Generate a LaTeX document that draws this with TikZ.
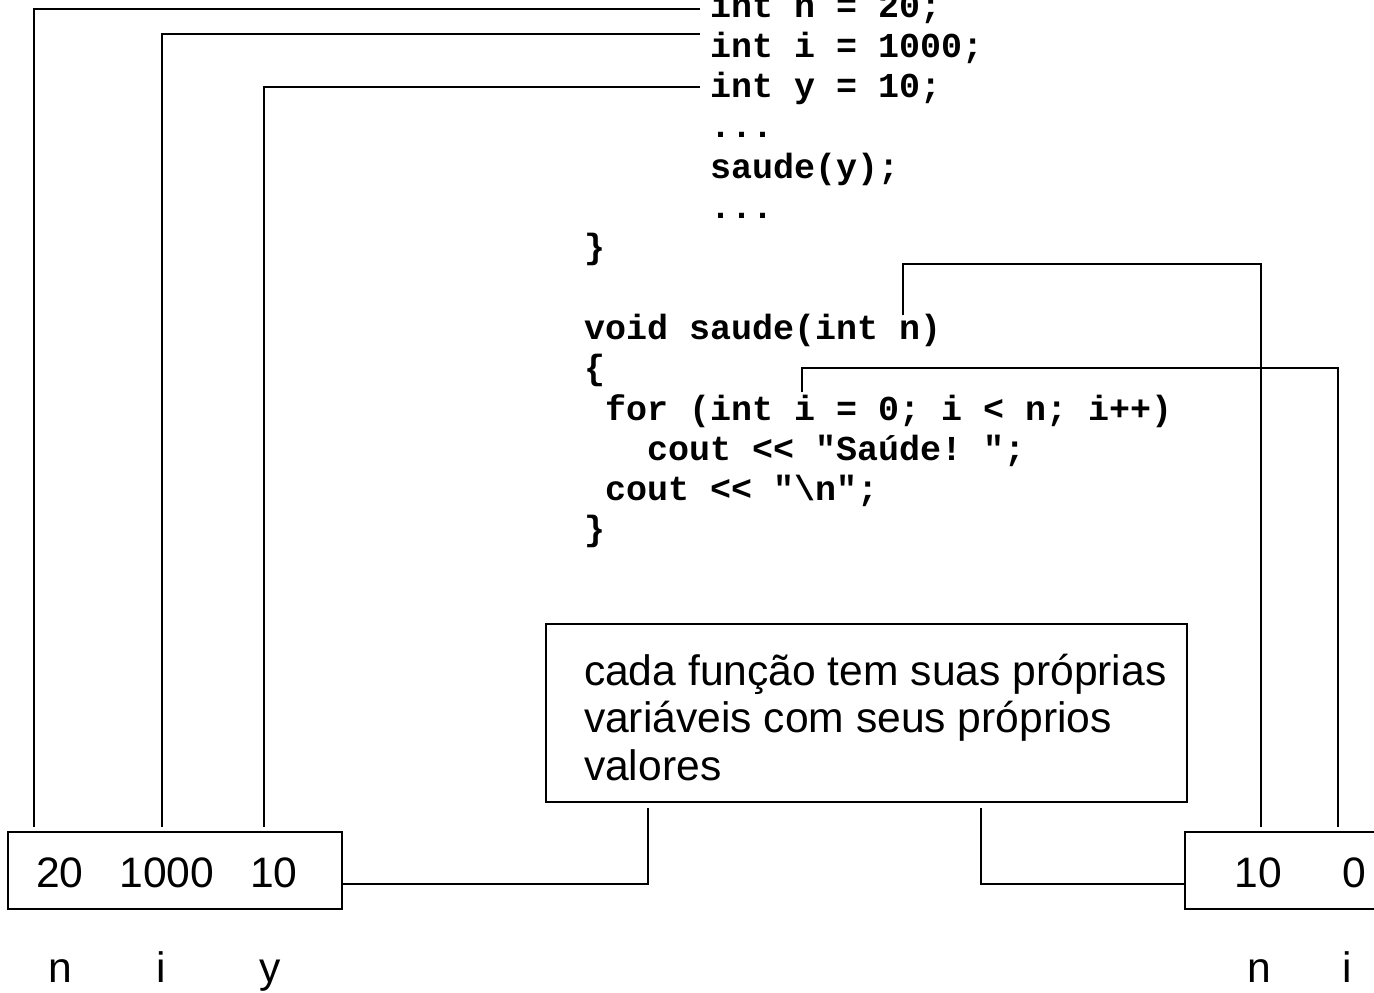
\documentclass[tikz,border=0pt]{standalone}
\usepackage{fontspec}
\setmainfont{Liberation Sans}
\setmonofont{Liberation Mono}
\frenchspacing
\begin{document}
\begin{tikzpicture}[x=0.5pt,y=-0.5pt,
  line width=1pt,
  code/.style={anchor=base west,inner sep=0pt,
    font=\ttfamily\bfseries\fontsize{17.5pt}{20pt}\selectfont},
  say/.style={anchor=base west,inner sep=0pt,
    font=\fontsize{21.3pt}{24pt}\selectfont},
  val/.style={anchor=base,inner sep=0pt,
    font=\fontsize{21.3pt}{24pt}\selectfont},
  memory/.style={draw,inner sep=0pt,minimum height=38.5pt},
  link/.style={draw,line width=1pt}]
\clip (0,0) rectangle (1374,992);
\path[use as bounding box] (0,0) rectangle (1374,992);

% main(): declarations and the call
\node[code] (c1)  at (709,17.0)  {int n = 20;};
\node[code] (c2)  at (709,57.3)  {int i = 1000;};
\node[code] (c3)  at (709,97.6)  {int y = 10;};
\node[code] (c4)  at (709,137.9) {...};
\node[code] (c5)  at (709,178.2) {saude(y);};
\node[code] (c6)  at (709,218.5) {...};
\node[code] (c7)  at (583,258.8) {\}};

% the function saude
\node[code] (c8)  at (583,339.4) {void saude(int n)};
\node[code] (c9)  at (583,379.7) {\{};
\node[code] (c10) at (604,420.0) {for (int i = 0; i < n; i++)};
\node[code] (c11) at (646,460.3) {cout << "Saúde! ";};
\node[code] (c12) at (604,500.6) {cout << "\textbackslash n";};
\node[code] (c13) at (583,540.9) {\}};

% explanatory note
\node[draw,inner sep=0pt,minimum width=320.5pt,minimum height=89pt] (note) at (866.5,713) {};
\node[say] (t1) at (583,685)   {cada função tem suas próprias};
\node[say] (t2) at (583,732.5) {variáveis com seus próprios};
\node[say] (t3) at (583,780)   {valores};

% memory of main()
\node[memory,minimum width=167pt] (mainbox) at (175,870.5) {};
\node[val] (m1) at (60,887)  {20};
\node[val] (m2) at (167,887) {1000};
\node[val] (m3) at (274,887) {10};
\node[val] (ln1) at (60,982)  {n};
\node[val] (ln2) at (161,982) {i};
\node[val] (ln3) at (270,982) {y};

% memory of saude()
\node[memory,minimum width=132.5pt] (saudebox) at (1317.5,870.5) {};
\node[val] (s1) at (1258,887) {10};
\node[val] (s2) at (1354,887) {0};
\node[val] (ls1) at (1259.5,982) {n};
\node[val] (ls2) at (1347.5,982) {i};

% variables of main() to their cells
\draw[link] ([xshift=-4.5pt,yshift=4pt]c1.base west) -| ([xshift=13.5pt,yshift=2pt]mainbox.north west);
\draw[link] ([xshift=-4.5pt,yshift=11.5pt]c2.base west) -| ([xshift=77.5pt,yshift=2pt]mainbox.north west);
\draw[link] ([xshift=-4.5pt,yshift=5.5pt]c3.base west) -| ([xshift=128.5pt,yshift=2pt]mainbox.north west);

% variables of saude() to their cells
\draw[link] ([xshift=160pt,yshift=12pt]c8.base west) -- ++(0,-51) -| ([xshift=38.5pt,yshift=2pt]saudebox.north west);
\draw[link] ([xshift=99pt,yshift=14pt]c10.base west) -- ++(0,-24) -| ([xshift=77pt,yshift=2pt]saudebox.north west);

% both memories point at the note
\draw[link] ([yshift=-6.75pt]mainbox.east) -| ([xshift=-109.25pt,yshift=-2.5pt]note.south);
\draw[link] ([yshift=-6.75pt]saudebox.west) -| ([xshift=57.25pt,yshift=-2.5pt]note.south);
\end{tikzpicture}
\end{document}
